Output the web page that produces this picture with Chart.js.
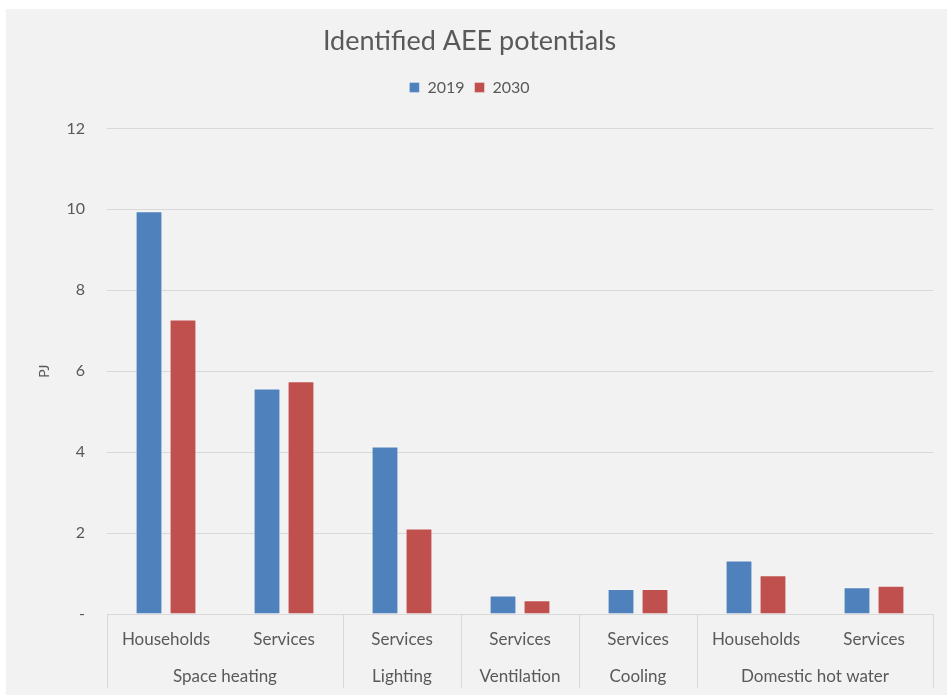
<!DOCTYPE html>
<html>
<head>
<meta charset="utf-8">
<script src="https://cdn.jsdelivr.net/npm/chart.js@4"></script>
<style>
  html, body { margin: 0; padding: 0; background: #ffffff; }
  #wrap { position: absolute; left: 6px; top: 9px; width: 941px; height: 686px; background: #f2f2f2; }
</style>
</head>
<body>
<div id="wrap"><canvas id="chart" width="941" height="686"></canvas></div>
<script>
// sub categories (first level of the x axis)
const subLabels = ['Households', 'Services', 'Services', 'Services', 'Services', 'Households', 'Services'];
// end uses (second level) and how many sub categories each one spans
const groupLabels = ['Space heating', 'Lighting', 'Ventilation', 'Cooling', 'Domestic hot water'];
const groupSpans = [2, 1, 1, 1, 2];

const values2019 = [9.95, 5.57, 4.14, 0.46, 0.62, 1.32, 0.66];
const values2030 = [7.28, 5.75, 2.11, 0.34, 0.62, 0.96, 0.70];

const yTicks = [0, 2, 4, 6, 8, 10, 12];

const textColor = '#595959';
const gridColor = '#d9d9d9';
const fontFamily = 'Lato, "Open Sans", sans-serif';

// draws the group row + separators under the category labels
const groupAxisPlugin = {
    id: 'groupAxis',
    afterDraw(chart) {
        const ctx = chart.ctx;
        const x = chart.scales.x;
        const half = x.width / subLabels.length / 2;
        const top = chart.chartArea.bottom;
        const bottom = top + 74;
        ctx.save();
        ctx.strokeStyle = gridColor;
        ctx.lineWidth = 1;
        let idx = 0;
        const edges = [x.getPixelForValue(0) - half];
        groupSpans.forEach(span => {
            idx += span;
            edges.push(x.getPixelForValue(idx - 1) + half);
        });
        edges.forEach(px => {
            const p = Math.round(px) + 0.5;
            ctx.beginPath();
            ctx.moveTo(p, top);
            ctx.lineTo(p, bottom);
            ctx.stroke();
        });
        ctx.fillStyle = textColor;
        ctx.font = '17px ' + fontFamily;
        ctx.textAlign = 'center';
        ctx.textBaseline = 'middle';
        groupLabels.forEach((g, i) => {
            ctx.fillText(g, (edges[i] + edges[i + 1]) / 2, top + 63);
        });
        ctx.restore();
    }
};

// extra room between legend and plot
const legendGapPlugin = {
    id: 'legendGap',
    beforeInit(chart) {
        const fit = chart.legend.fit;
        chart.legend.fit = function () {
            fit.bind(chart.legend)();
            this.height += 23;
        };
    }
};

new Chart(document.getElementById('chart'), {
    type: 'bar',
    data: {
        labels: subLabels,
        datasets: [
            { label: '2019', data: values2019, backgroundColor: '#4f81bd', borderColor: 'rgba(255,255,255,0.35)', borderWidth: 1 },
            { label: '2030', data: values2030, backgroundColor: '#c0504d', borderColor: 'rgba(255,255,255,0.35)', borderWidth: 1 }
        ]
    },
    options: {
        responsive: false,
        animation: false,
        layout: { padding: { left: 0, right: 14, top: 0, bottom: 0 } },
        datasets: { bar: { categoryPercentage: 0.576, barPercentage: 0.79 } },
        plugins: {
            tooltip: { enabled: false },
            title: {
                display: true,
                text: 'Identified AEE potentials',
                color: textColor,
                font: { family: fontFamily, size: 27, weight: 'normal' },
                padding: { top: 16, bottom: 12 }
            },
            legend: {
                display: true,
                labels: {
                    color: textColor,
                    font: { family: fontFamily, size: 16 },
                    boxWidth: 10,
                    boxHeight: 10,
                    padding: 10
                }
            }
        },
        scales: {
            x: {
                grid: { display: false },
                border: { display: false },
                ticks: {
                    color: textColor,
                    font: { family: fontFamily, size: 17 },
                    padding: 7,
                    maxRotation: 0,
                    autoSkip: false
                },
                afterFit(scale) { scale.height = 81; }
            },
            y: {
                min: 0,
                max: 12,
                grid: { color: gridColor, drawTicks: false },
                border: { display: false },
                afterBuildTicks(scale) { scale.ticks = yTicks.map(v => ({ value: v })); },
                ticks: {
                    color: textColor,
                    font: { family: fontFamily, size: 16 },
                    padding: 22,
                    callback: v => v === 0 ? '-' : v
                },
                title: {
                    display: true,
                    text: 'PJ',
                    color: textColor,
                    font: { family: fontFamily, size: 14 },
                    padding: { top: 30, bottom: 0 }
                },
                afterFit(scale) { scale.width = 101; }
            }
        }
    },
    plugins: [groupAxisPlugin, legendGapPlugin]
});
</script>
</body>
</html>
